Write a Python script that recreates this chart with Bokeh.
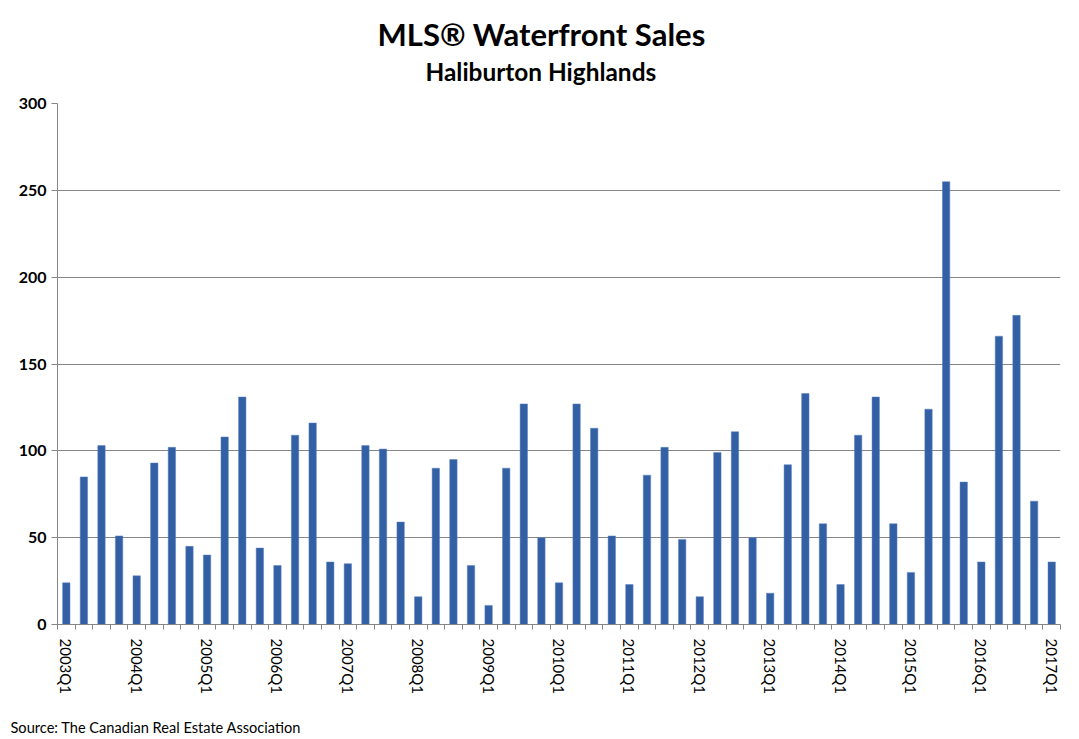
import math
from bokeh.plotting import figure
from bokeh.models import FixedTicker, Title, Range1d, ColumnDataSource
from bokeh.embed import file_html
from bokeh.resources import INLINE

years = [2003, 2004, 2005, 2006, 2007, 2008, 2009, 2010, 2011, 2012, 2013, 2014, 2015, 2016, 2017]
quarters = ["Q1", "Q2", "Q3", "Q4"]
sales = [24, 85, 103, 51,
         28, 93, 102, 45,
         40, 108, 131, 44,
         34, 109, 116, 36,
         35, 103, 101, 59,
         16, 90, 95, 34,
         11, 90, 127, 50,
         24, 127, 113, 51,
         23, 86, 102, 49,
         16, 99, 111, 50,
         18, 92, 133, 58,
         23, 109, 131, 58,
         30, 124, 255, 82,
         36, 166, 178, 71,
         36]
labels = [f"{y}{q}" for y in years for q in quarters][:len(sales)]
y_ticks = [0, 50, 100, 150, 200, 250, 300]
title = "MLS® Waterfront Sales"
subtitle = "Haliburton Highlands"
source_note = "Source: The Canadian Real Estate Association"

FONT = "Lato"
W, H = 1075, 739
idx = list(range(len(sales)))
src = ColumnDataSource(dict(x=idx, v=sales, lab=labels))

p = figure(width=W, height=H, output_backend="svg", toolbar_location=None,
           x_range=Range1d(-0.5, len(sales) - 0.5), y_range=Range1d(0, 300),
           min_border_left=57, min_border_right=15, min_border_top=103, min_border_bottom=114)
p.vbar(x="x", top="v", width=0.42, source=src, fill_color="#335FA5", line_color="#5A80C0", line_width=0.5)

p.title.text = title
p.title.align = "left"
p.title.offset = 320
p.title.text_font = FONT
p.title.text_font_size = "31px"
p.title.text_font_style = "bold"
p.title.text_color = "black"
p.title.standoff = -33
p.title.text_line_height = 0.4
p.add_layout(Title(text=subtitle, align="left", offset=368, text_font=FONT,
                   text_font_size="24.4px", text_font_style="bold", text_color="black",
                   standoff=36), "above")
p.add_layout(Title(text=source_note, align="left", offset=-47,
                   text_font=FONT, text_font_size="14.6px", text_font_style="normal",
                   text_color="black", standoff=7), "below")

p.outline_line_color = None
p.xgrid.grid_line_color = None
p.ygrid.grid_line_color = "#868686"
p.ygrid.ticker = FixedTicker(ticks=y_ticks)

p.yaxis.ticker = FixedTicker(ticks=y_ticks)
p.yaxis.axis_line_color = "#868686"
p.yaxis.major_tick_line_color = "#868686"
p.yaxis.major_tick_out = 6
p.yaxis.major_tick_in = 0
p.yaxis.minor_tick_line_color = None
p.yaxis.major_label_text_font = FONT
p.yaxis.major_label_text_font_size = "16px"
p.yaxis.major_label_text_font_style = "bold"
p.yaxis.major_label_text_color = "black"

q1_pos = [i for i in idx if labels[i].endswith("Q1")]
p.xaxis.ticker = FixedTicker(ticks=q1_pos, minor_ticks=[i - 0.5 for i in range(len(sales) + 1)])
p.xaxis.major_label_overrides = {i: labels[i] for i in q1_pos}
p.xaxis.major_label_orientation = -math.pi / 2
p.xaxis.major_tick_line_color = None
p.xaxis.minor_tick_line_color = "#868686"
p.xaxis.minor_tick_out = 5
p.xaxis.minor_tick_in = 0
p.xaxis.axis_line_color = "#868686"
p.xaxis.major_label_text_font = FONT
p.xaxis.major_label_text_font_size = "15px"
p.xaxis.major_label_text_color = "black"
p.xaxis.major_label_standoff = 8
p.xaxis.axis_label = " "
p.xaxis.axis_label_text_font_size = "8px"
p.xaxis.axis_label_standoff = 4

open("out.html", "w").write(file_html(p, INLINE))
